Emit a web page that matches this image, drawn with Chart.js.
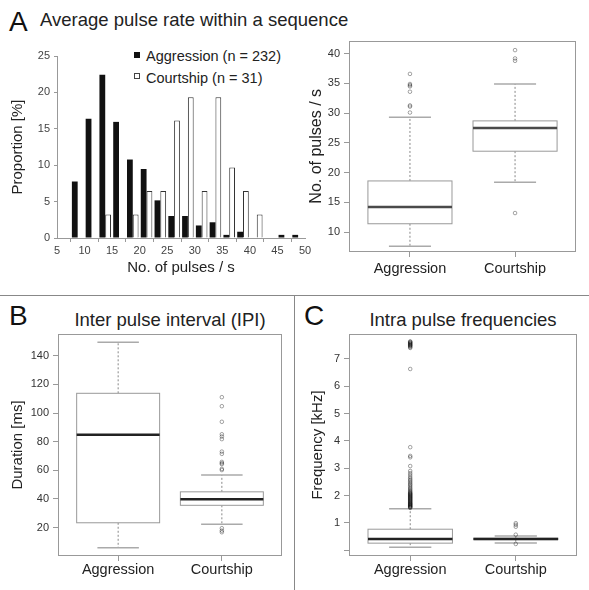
<!DOCTYPE html>
<html>
<head>
<meta charset="utf-8">
<script src="https://cdn.jsdelivr.net/npm/chart.js@4.4.1/dist/chart.umd.min.js"></script>
<style>
  html, body { margin: 0; padding: 0; background: #fff; }
  body { width: 589px; height: 590px; position: relative; overflow: hidden; font-family: "Liberation Sans", Arial, sans-serif; color: #222; }
  canvas { position: absolute; }
  .letter { position: absolute; font-size: 28px; line-height: 28px; color: #111; }
  .title { position: absolute; font-size: 18.5px; line-height: 19px; color: #222; white-space: nowrap; }
  .leg { position: absolute; font-size: 14.5px; line-height: 15px; color: #222; white-space: nowrap; }
  .sq { position: absolute; width: 6px; height: 6px; box-sizing: border-box; }
  .hline { position: absolute; left: 0; top: 295px; width: 589px; height: 1px; background: #888; }
  .vline { position: absolute; left: 294px; top: 295px; width: 1px; height: 295px; background: #888; }
</style>
</head>
<body>
<div class="hline"></div>
<div class="vline"></div>

<div class="letter" style="left:9px; top:8px;">A</div>
<div class="title" style="left:40px; top:10px;">Average pulse rate within a sequence</div>
<div class="letter" style="left:9px; top:302px;">B</div>
<div class="title" style="left:58px; width:224px; text-align:center; top:310px;">Inter pulse interval (IPI)</div>
<div class="letter" style="left:304px; top:302px;">C</div>
<div class="title" style="left:349px; width:228px; text-align:center; top:310px;">Intra pulse frequencies</div>

<div class="sq" style="left:134px; top:52px; background:#111;"></div>
<div class="leg" style="left:146px; top:49px;">Aggression (n = 232)</div>
<div class="sq" style="left:134px; top:73px; background:#fff; border:1px solid #444;"></div>
<div class="leg" style="left:146px; top:71px;">Courtship (n = 31)</div>

<canvas id="cA1" width="314" height="250" style="left:0px; top:40px;"></canvas>
<canvas id="cA2" width="294" height="260" style="left:295px; top:30px;"></canvas>
<canvas id="cB" width="294" height="294" style="left:0px; top:296px;"></canvas>
<canvas id="cC" width="293" height="294" style="left:296px; top:296px;"></canvas>

<script>
// ---------- Panel A: histogram ----------
const binCenters = [6.25, 8.75, 11.25, 13.75, 16.25, 18.75, 21.25, 23.75, 26.25, 28.75, 31.25, 33.75, 36.25, 38.75, 41.25, 43.75, 46.25, 48.75];
const aggressionPct = [0, 7.76, 16.38, 22.41, 15.95, 10.78, 9.48, 5.17, 3.02, 3.02, 1.72, 2.16, 0.43, 0.86, 0, 0, 0.43, 0.43];
const courtshipPct = [0, 0, 0, 3.23, 0, 3.23, 6.45, 6.45, 16.13, 19.35, 6.45, 19.35, 9.68, 6.45, 3.23, 0, 0, 0];
const histXTicks = [5, 10, 15, 20, 25, 30, 35, 40, 45, 50];
const histYTicks = [0, 5, 10, 15, 20, 25];

// ---------- Box plot categories ----------
const boxCategories = ['Aggression', 'Courtship'];

// Panel A right: pulse rate (pulses / s)
const rateMin = [7.6, 18.4];
const rateQ1 = [11.4, 23.6];
const rateMedian = [14.2, 27.5];
const rateQ3 = [18.6, 28.7];
const rateMax = [29.3, 34.9];
const rateOutAggression = [30.1, 31.1, 31.3, 33.6, 34.5, 34.7, 34.9, 36.6];
const rateOutCourtship = [13.2, 38.8, 39.2, 40.6];
const rateTicks = [10, 15, 20, 25, 30, 35, 40];

// Panel B: inter pulse interval (ms)
const ipiMin = [6.0, 22.4];
const ipiQ1 = [23.4, 35.6];
const ipiMedian = [84.8, 39.8];
const ipiQ3 = [113.8, 45.0];
const ipiMax = [149.5, 56.8];
const ipiOutAggression = [];
const ipiOutCourtship = [16.8, 17.9, 19.6, 60.2, 61.0, 64.3, 65.0, 65.9, 71.5, 73.1, 81.8, 83.6, 85.2, 93.9, 104.8, 111.1];
const ipiTicks = [20, 40, 60, 80, 100, 120, 140];

// Panel C: intra pulse frequency (kHz)
const freqMin = [0.11, 0.27];
const freqQ1 = [0.26, 0.39];
const freqMedian = [0.41, 0.41];
const freqQ3 = [0.77, 0.44];
const freqMax = [1.52, 0.52];
const freqOutAggression = [1.55, 1.57, 1.59, 1.60, 1.62, 1.64, 1.65, 1.67, 1.69, 1.70, 1.72, 1.74, 1.76, 1.78, 1.80, 1.82, 1.84, 1.86, 1.88, 1.90, 1.92, 1.94, 1.96, 1.98, 2.00, 2.02, 2.04, 2.06, 2.08, 2.10, 2.13, 2.16, 2.20, 2.24, 2.28, 2.33, 2.38, 2.42, 2.47, 2.52, 2.57, 2.62, 2.68, 2.75, 2.82, 2.90, 3.08, 3.40, 3.45, 3.77, 6.63, 7.40, 7.43, 7.46, 7.48, 7.50, 7.52, 7.54, 7.56, 7.58, 7.60, 7.62, 7.64];
const freqOutCourtship = [0.23, 0.57, 0.86, 0.93, 0.99];
const freqTicks = [0, 1, 2, 3, 4, 5, 6, 7];
const freqTickLabels = ['', '1', '2', '3', '4', '5', '6', '7'];

Chart.defaults.font.family = '"Liberation Sans", Arial, sans-serif';
Chart.defaults.animation = false;
Chart.defaults.responsive = false;
Chart.defaults.devicePixelRatio = 1;

// ---------- Histogram ----------
new Chart(document.getElementById('cA1'), {
  type: 'bar',
  data: {
    labels: binCenters,
    datasets: [
      { label: 'Aggression (n = 232)', data: aggressionPct, backgroundColor: '#111', borderColor: '#111', borderWidth: 0,
        categoryPercentage: 0.84, barPercentage: 1.0 },
      { label: 'Courtship (n = 31)', data: courtshipPct, backgroundColor: '#fff', borderColor: '#333',
        borderWidth: ctx => (ctx.raw ? 1 : 0), categoryPercentage: 0.84, barPercentage: 1.0 }
    ]
  },
  options: {
    layout: { padding: { left: 0, right: 9, top: 16, bottom: 0 } },
    plugins: { legend: { display: false }, tooltip: { enabled: false } },
    scales: {
      x: {
        type: 'linear', min: 5, max: 50, offset: false,
        afterBuildTicks: s => { s.ticks = histXTicks.map(v => ({ value: v })); },
        afterFit: s => { s.height = 52; },
        grid: { drawOnChartArea: false, drawTicks: true, tickLength: 4, color: '#999' },
        border: { display: true, color: '#999' },
        ticks: { color: '#444', font: { size: 11 }, padding: 2, maxRotation: 0, autoSkip: false },
        title: { display: true, text: 'No. of pulses / s', color: '#222', font: { size: 15 }, padding: { top: 0, bottom: 13 } }
      },
      y: {
        min: 0, max: 25,
        afterBuildTicks: s => { s.ticks = histYTicks.map(v => ({ value: v })); },
        afterFit: s => { s.width = 57; },
        grid: { drawOnChartArea: false, drawTicks: true, tickLength: 3, color: '#999' },
        border: { display: true, color: '#999' },
        ticks: { color: '#444', font: { size: 11 }, padding: 4 },
        title: { display: true, text: 'Proportion [%]', color: '#222', font: { size: 15 }, padding: { top: 9, bottom: 0 } }
      }
    }
  }
});

// ---------- Box plot helper ----------
function boxPlugin(st, medColor) {
  return {
    id: 'boxdraw',
    beforeDatasetsDraw(chart) {
      const { ctx, chartArea, scales } = chart;
      const x = scales.x, y = scales.y;
      const line = (x1, y1, x2, y2) => { ctx.beginPath(); ctx.moveTo(x1, y1); ctx.lineTo(x2, y2); ctx.stroke(); };
      ctx.save();
      st.median.forEach((m, i) => {
        const cx = x.getPixelForValue(i + 1);
        const hw = Math.abs(x.getPixelForValue(i + 1.4) - cx);
        const cw = hw / 2;
        const pMin = y.getPixelForValue(st.min[i]);
        const pQ1 = y.getPixelForValue(st.q1[i]);
        const pMed = y.getPixelForValue(m);
        const pQ3 = y.getPixelForValue(st.q3[i]);
        const pMax = y.getPixelForValue(st.max[i]);
        ctx.strokeStyle = '#888'; ctx.lineWidth = 1; ctx.setLineDash([2, 2]);
        line(cx, pQ3, cx, pMax);
        line(cx, pQ1, cx, pMin);
        ctx.setLineDash([]);
        ctx.strokeStyle = '#aaa'; ctx.lineWidth = 1.5;
        line(cx - cw, pMax, cx + cw, pMax);
        line(cx - cw, pMin, cx + cw, pMin);
        ctx.fillStyle = '#fff';
        ctx.fillRect(cx - hw, pQ3, 2 * hw, pQ1 - pQ3);
        ctx.strokeStyle = '#999'; ctx.lineWidth = 1;
        ctx.strokeRect(cx - hw, pQ3, 2 * hw, pQ1 - pQ3);
        ctx.strokeStyle = medColor; ctx.lineWidth = 2.5;
        line(cx - hw, pMed, cx + hw, pMed);
      });
      ctx.strokeStyle = '#999'; ctx.lineWidth = 1;
      ctx.strokeRect(Math.round(chartArea.left) + 0.5, Math.round(chartArea.top) + 0.5,
                     Math.round(chartArea.right - chartArea.left) - 1, Math.round(chartArea.bottom - chartArea.top) - 1);
      ctx.restore();
    }
  };
}

function boxChart(id, st, outA, outC, yMin, yMax, yTicks, yLabels, yTitle, opt) {
  const pts = (arr, i) => arr.map(v => ({ x: i + 1, y: v }));
  return new Chart(document.getElementById(id), {
    type: 'scatter',
    data: {
      datasets: [
        { data: pts(outA, 0), pointRadius: 1.8, pointBorderWidth: 0.8, pointBorderColor: 'rgba(0,0,0,0.45)', pointBackgroundColor: 'rgba(0,0,0,0)' },
        { data: pts(outC, 1), pointRadius: 1.8, pointBorderWidth: 0.8, pointBorderColor: 'rgba(0,0,0,0.45)', pointBackgroundColor: 'rgba(0,0,0,0)' }
      ]
    },
    options: {
      layout: { padding: { left: 0, right: opt.right, top: opt.top, bottom: 0 } },
      plugins: { legend: { display: false }, tooltip: { enabled: false } },
      scales: {
        x: {
          type: 'linear', min: 0.42, max: 2.58,
          afterBuildTicks: s => { s.ticks = boxCategories.map((c, i) => ({ value: i + 1 })); },
          afterFit: s => { s.height = opt.xh; },
          grid: { drawOnChartArea: false, drawTicks: true, tickLength: 5, color: '#999' },
          border: { display: false },
          ticks: { color: '#222', font: { size: 14.5 }, padding: opt.xpad, maxRotation: 0, autoSkip: false,
                   callback: (v, i) => boxCategories[i] }
        },
        y: {
          min: yMin, max: yMax,
          afterBuildTicks: s => { s.ticks = yTicks.map(v => ({ value: v })); },
          afterFit: s => { s.width = opt.yw; },
          grid: { drawOnChartArea: false, drawTicks: true, tickLength: 5, color: '#999' },
          border: { display: false },
          ticks: { color: '#333', font: { size: 11 }, padding: 4, autoSkip: false,
                   callback: (v, i) => yLabels[i] },
          title: { display: true, text: yTitle, color: '#222', font: { size: opt.tsize }, padding: { top: opt.tpad, bottom: 0 } }
        }
      }
    },
    plugins: [boxPlugin(st, opt.med)]
  });
}

boxChart('cA2',
  { min: rateMin, q1: rateQ1, median: rateMedian, q3: rateQ3, max: rateMax },
  rateOutAggression, rateOutCourtship, 6.65, 42.2, rateTicks, rateTicks.map(String), 'No. of pulses / s',
  { right: 13, top: 7, xh: 38, yw: 54, xpad: 3, tsize: 16, tpad: 12.4, med: '#4a4a4a' });

boxChart('cB',
  { min: ipiMin, q1: ipiQ1, median: ipiMedian, q3: ipiQ3, max: ipiMax },
  ipiOutAggression, ipiOutCourtship, 0.2, 155.2, ipiTicks, ipiTicks.map(String), 'Duration [ms]',
  { right: 12, top: 38, xh: 34, yw: 58, xpad: 0, tsize: 15, tpad: 9, med: '#222' });

boxChart('cC',
  { min: freqMin, q1: freqQ1, median: freqMedian, q3: freqQ3, max: freqMax },
  freqOutAggression, freqOutCourtship, -0.21, 7.91, freqTicks, freqTickLabels, 'Frequency [kHz]',
  { right: 12, top: 38, xh: 34, yw: 53, xpad: 0, tsize: 15, tpad: 12.5, med: '#222' });
</script>
</body>
</html>
